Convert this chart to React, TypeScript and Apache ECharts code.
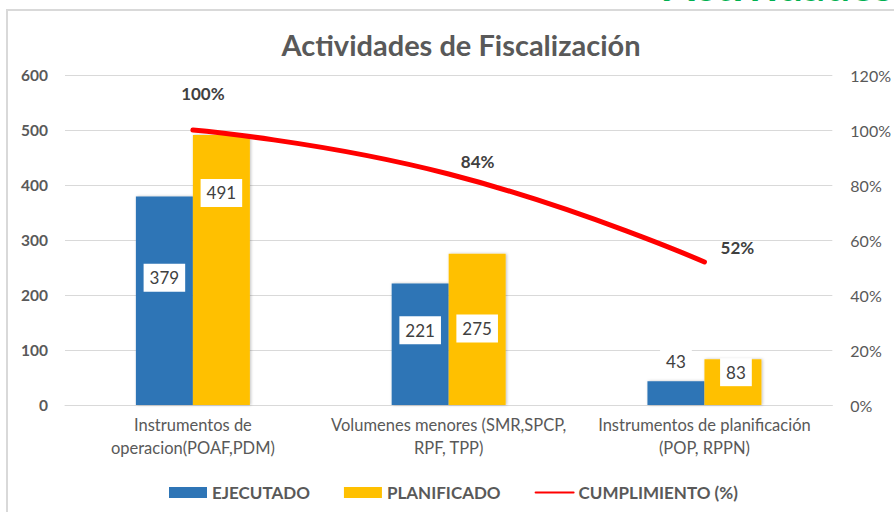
import React, { useEffect, useRef } from "react";
import * as echarts from "echarts";

const categories = [
  "Instrumentos de\noperacion(POAF,PDM)",
  "Volumenes menores (SMR,SPCP,\nRPF, TPP)",
  "Instrumentos de planificación\n(POP, RPPN)",
];
const ejecutado = [379, 221, 43];
const planificado = [491, 275, 83];
const cumplimiento = [1.0, 0.84, 0.52];
const leftAxis = { min: 0, max: 600, interval: 100 };
const rightAxis = { min: 0, max: 1.2, interval: 0.2 };

// label offsets (style only)
const ejecutadoLabelOffsets = [[0, -23], [0, -14], [0, -32]];
const planificadoLabelOffsets = [[0, -77], [0, -1], [3, -10]];
const lineLabelOffsets = [[10, -28], [29, -4], [33, -6]];

const FONT = "Lato, 'Noto Sans', sans-serif";
const GRAY = "#595959";

export default function App() {
  const ref = useRef<HTMLDivElement>(null);
  useEffect(() => {
    if (!ref.current) return;
    const chart = echarts.init(ref.current, null, { renderer: "svg" });
    const barLabel = {
      show: true,
      position: "inside",
      backgroundColor: "#ffffff",
      color: "#404040",
      fontFamily: FONT,
      fontSize: 17,
      padding: [6, 6, 5, 6],
    };
    chart.setOption({
      animation: false,
      textStyle: { fontFamily: FONT },
      graphic: [
        {
          type: "rect",
          shape: { x: 7, y: 10, width: 1000, height: 1000 },
          style: { fill: "none", stroke: "#d9d9d9", lineWidth: 2 },
          silent: true,
        },
        {
          type: "text",
          x: 664,
          y: -38,
          style: {
            text: "Actividades",
            fill: "#00b050",
            font: `bold 44px ${FONT}`,
            textAlign: "left",
            textVerticalAlign: "top",
          },
        },
        {
          type: "text",
          x: 461,
          y: 44,
          style: {
            text: "Actividades de Fiscalización",
            fill: GRAY,
            font: `bold 29px ${FONT}`,
            textAlign: "center",
            textVerticalAlign: "middle",
          },
        },
      ],
      grid: { left: 65, right: 57, top: 75, bottom: 107, containLabel: false },
      legend: {
        left: 164,
        top: 479,
        itemWidth: 38,
        itemHeight: 11,
        itemGap: 34,
        textStyle: { color: GRAY, fontFamily: FONT, fontSize: 17, fontWeight: "bold" },
        data: [
          { name: "EJECUTADO", icon: "rect" },
          { name: "PLANIFICADO", icon: "rect" },
          { name: "CUMPLIMIENTO (%)" },
        ],
      },
      xAxis: {
        type: "category",
        data: categories,
        axisLine: { lineStyle: { color: "#d9d9d9" } },
        axisTick: { show: false },
        axisLabel: {
          color: GRAY,
          fontFamily: FONT,
          fontSize: 16.5,
          lineHeight: 23,
          margin: 8,
          interval: 0,
        },
      },
      yAxis: [
        {
          type: "value",
          min: leftAxis.min,
          max: leftAxis.max,
          interval: leftAxis.interval,
          axisLine: { show: false },
          axisTick: { show: false },
          splitLine: { lineStyle: { color: "#d9d9d9" } },
          axisLabel: { color: GRAY, fontFamily: FONT, fontSize: 15.5, fontWeight: "bold", margin: 17 },
        },
        {
          type: "value",
          min: rightAxis.min,
          max: rightAxis.max,
          interval: rightAxis.interval,
          axisLine: { show: false },
          axisTick: { show: false },
          splitLine: { show: false },
          axisLabel: {
            color: GRAY,
            fontFamily: FONT,
            fontSize: 16,
            margin: 18,
            formatter: (v: number) => `${Math.round(v * 100)}%`,
          },
        },
      ],
      series: [
        {
          name: "EJECUTADO",
          type: "bar",
          barWidth: 57,
          barGap: "0%",
          itemStyle: {
            color: "#2e75b6",
            shadowColor: "rgba(0,0,0,0.25)",
            shadowBlur: 3,
            shadowOffsetX: 1,
          },
          label: barLabel,
          data: ejecutado.map((v, i) => ({ value: v, label: { offset: ejecutadoLabelOffsets[i] } })),
        },
        {
          name: "PLANIFICADO",
          type: "bar",
          barWidth: 57,
          barGap: "0%",
          itemStyle: {
            color: "#ffc000",
            shadowColor: "rgba(0,0,0,0.25)",
            shadowBlur: 3,
            shadowOffsetX: 1,
          },
          label: barLabel,
          data: planificado.map((v, i) => ({ value: v, label: { offset: planificadoLabelOffsets[i] } })),
        },
        {
          name: "CUMPLIMIENTO (%)",
          type: "line",
          yAxisIndex: 1,
          smooth: true,
          symbol: "circle",
          symbolSize: 1,
          showSymbol: true,
          z: 5,
          lineStyle: { color: "#ff0000", width: 5, cap: "round" },
          itemStyle: { color: "rgba(255,0,0,0)", borderWidth: 0 },
          label: {
            show: true,
            position: "top",
            distance: 0,
            color: "#404040",
            fontFamily: FONT,
            fontSize: 17,
            fontWeight: "bold",
            formatter: (p: any) => `${Math.round(p.value * 100)}%`,
          },
          data: cumplimiento.map((v, i) => ({ value: v, label: { offset: lineLabelOffsets[i] } })),
        },
      ],
    });
    return () => chart.dispose();
  }, []);
  return (
    <div
      ref={ref}
      style={{ position: "fixed", left: 0, top: 0, width: 894, height: 512, background: "#fff" }}
    />
  );
}
